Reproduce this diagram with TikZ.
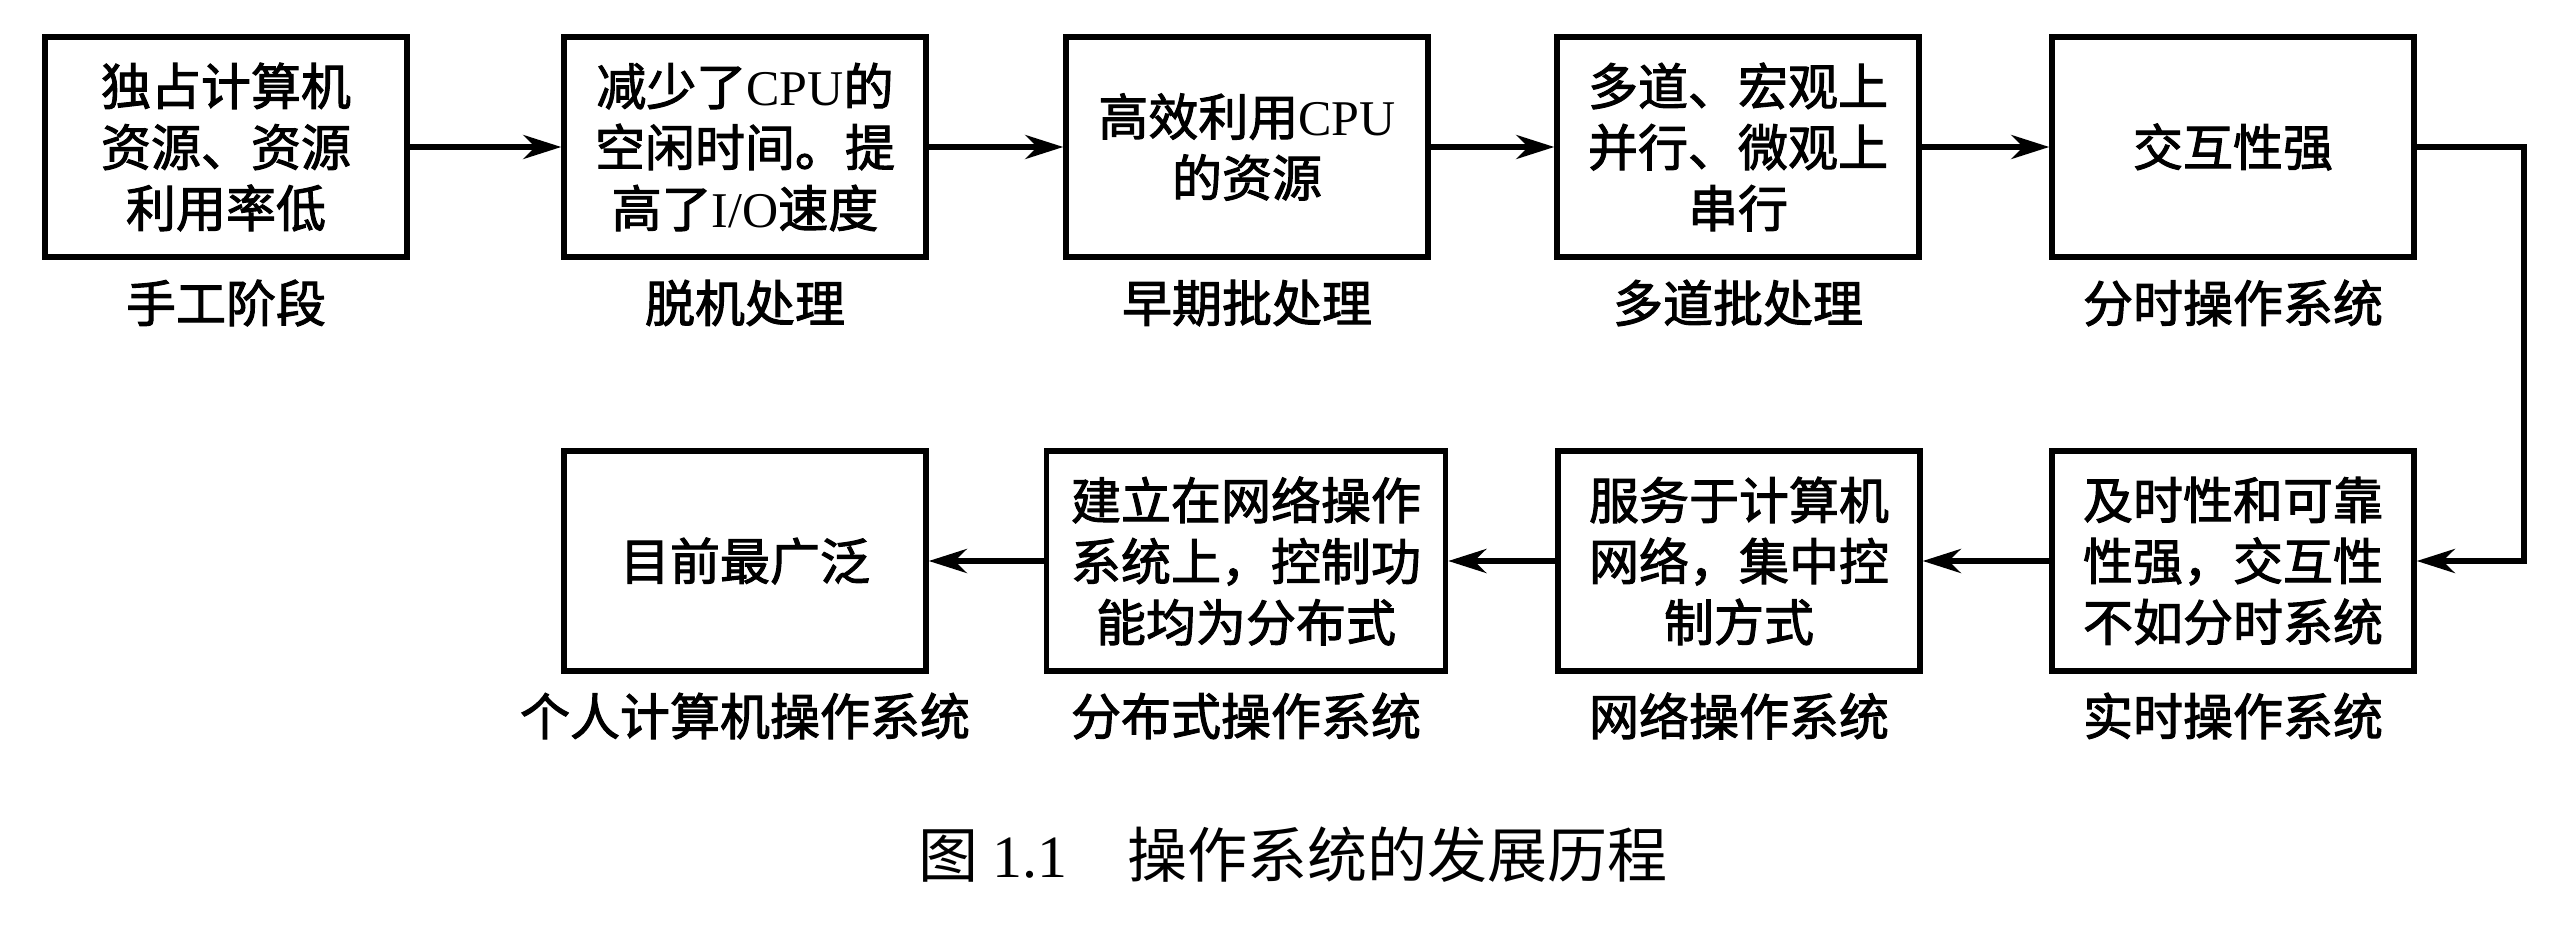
\documentclass[tikz,border=0pt]{standalone}
\usepackage{fontspec}
\newfontfamily\cjk{Noto Sans CJK SC}
\newfontfamily\cjkb[FakeBold=2]{Noto Sans CJK SC}
\newfontfamily\lat{Liberation Serif}
\usetikzlibrary{arrows.meta}
\newcommand\myboxfont{\cjkb\fontsize{50}{61}\selectfont}
\newcommand\mycapfont{\cjk\fontsize{60}{66}\selectfont}
\tikzset{
  stagebox/.style={draw, line width=5.5pt, minimum width=362pt, minimum height=220pt,
    inner sep=0pt, align=center, font=\myboxfont},
  stagelabel/.style={inner sep=0pt, font=\myboxfont},
  conn/.style={line width=5.5pt, -{Stealth[length=38pt,width=24pt,inset=12pt]}},
}
\begin{document}
\begin{tikzpicture}[x=1pt,y=-1pt]
\useasboundingbox (0,0) rectangle (2574,928);
% top row
\node[stagebox] (b1) at (226,147) {独占计算机\\资源、资源\\利用率低};
\node[stagebox] (b2) at (745,147) {减少了{\lat CPU}的\\空闲时间。提\\高了{\lat I/O}速度};
\node[stagebox] (b3) at (1247,147) {高效利用{\lat CPU}\\的资源};
\node[stagebox] (b4) at (1738,147) {多道、宏观上\\并行、微观上\\串行};
\node[stagebox] (b5) at (2233,147) {交互性强};
% bottom row
\node[stagebox] (b7) at (2233,561) {及时性和可靠\\性强，交互性\\不如分时系统};
\node[stagebox] (b8) at (1739,561) {服务于计算机\\网络，集中控\\制方式};
\node[stagebox, minimum width=399pt] (b9) at (1246,561) {建立在网络操作\\系统上，控制功\\能均为分布式};
\node[stagebox] (b10) at (745,561) {目前最广泛};
% labels
\node[stagelabel] (l1) at (226,303) {手工阶段};
\node[stagelabel] (l2) at (745,303) {脱机处理};
\node[stagelabel] (l3) at (1247,303) {早期批处理};
\node[stagelabel] (l4) at (1738,303) {多道批处理};
\node[stagelabel] (l5) at (2233,303) {分时操作系统};
\node[stagelabel] (l7) at (2233,716) {实时操作系统};
\node[stagelabel] (l8) at (1739,716) {网络操作系统};
\node[stagelabel] (l9) at (1246,716) {分布式操作系统};
\node[stagelabel] (l10) at (745,716) {个人计算机操作系统};
% connectors
\draw[conn] (b1) -- (b2);
\draw[conn] (b2) -- (b3);
\draw[conn] (b3) -- (b4);
\draw[conn] (b4) -- (b5);
\coordinate (turn) at (2524,355);
\draw[conn] (b5.east) -| (turn) |- (b7.east);
\draw[conn] (b7) -- (b8);
\draw[conn] (b8) -- (b9);
\draw[conn] (b9) -- (b10);
% caption
\node[inner sep=0pt, font=\mycapfont] (cap) at (1293,855) {图 {\lat 1.1}\quad 操作系统的发展历程};
\end{tikzpicture}
\end{document}
